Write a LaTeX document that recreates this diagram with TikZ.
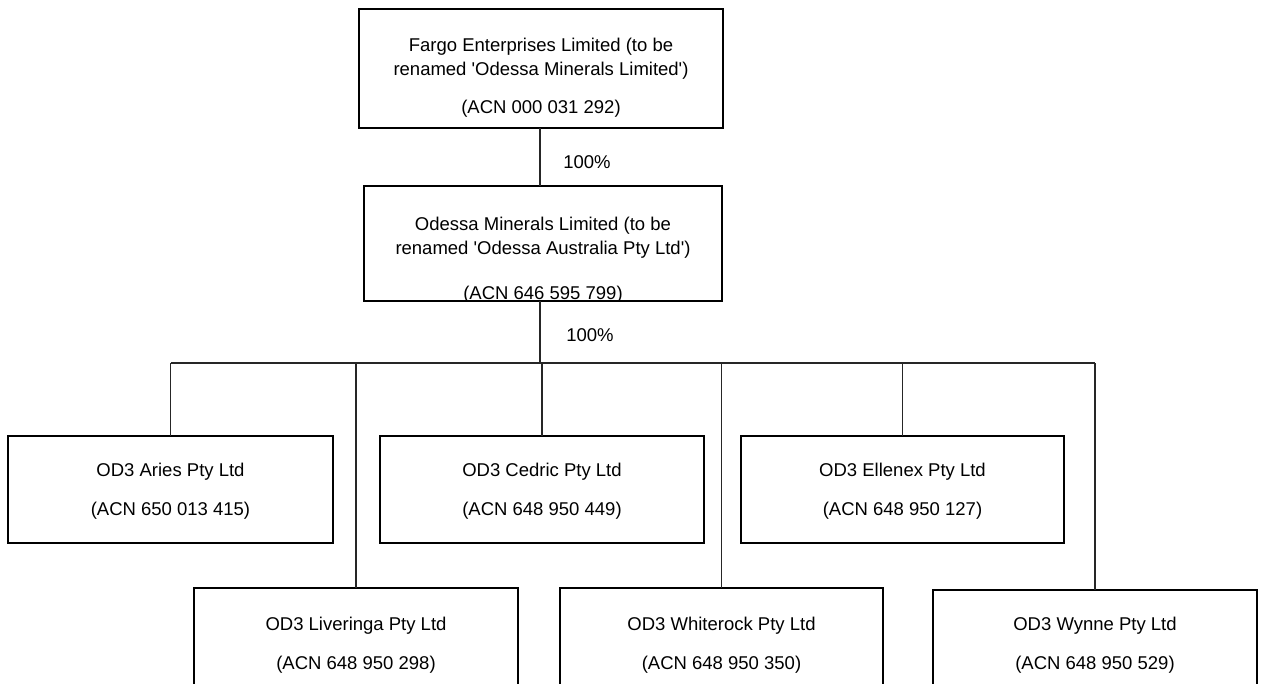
\documentclass[tikz,border=0pt]{standalone}
\usepackage{fontspec}
\setmainfont{Liberation Sans}
\begin{document}
\begin{tikzpicture}[x=1pt,y=-1pt,
    boite/.style={draw,line width=1.8pt,anchor=north west,inner sep=0pt,outer sep=0pt},
    ligne/.style={anchor=base,inner sep=0pt,font=\fontsize{18.5}{22}\selectfont},
    lien/.style={line width=1.1pt,draw=black!85}]
  \useasboundingbox (0,0) rectangle (1262,684);
  \clip (0,0) rectangle (1262,684);

  % Société mère
  \node[boite,minimum width=364pt,minimum height=119pt] (Fargo) at (359,9) {};
  \node[ligne] (Fargo_1) at ([yshift=-43pt]Fargo.north) {Fargo Enterprises Limited (to be};
  \node[ligne] (Fargo_2) at ([yshift=-67pt]Fargo.north) {renamed \textquotesingle Odessa Minerals Limited\textquotesingle)};
  \node[ligne] (Fargo_3) at ([yshift=-105pt]Fargo.north) {(ACN 000 031 292)};

  % Filiale intermédiaire (dernière ligne coupée par le cadre)
  \node[boite,minimum width=358pt,minimum height=115pt] (Odessa) at (364,186) {};
  \node[ligne] (Odessa_1) at ([yshift=-45pt]Odessa.north) {Odessa Minerals Limited (to be};
  \node[ligne] (Odessa_2) at ([yshift=-69pt]Odessa.north) {renamed \textquotesingle Odessa Australia Pty Ltd\textquotesingle)};
  \begin{scope}
    \clip (Odessa.north west) rectangle (Odessa.south east);
    \node[ligne] (Odessa_3) at ([yshift=-114pt]Odessa.north) {(ACN 646 595 799)};
  \end{scope}

  % Filiales OD3, première rangée
  \node[boite,minimum width=325pt,minimum height=107pt] (Aries) at (8,436) {};
  \node[boite,minimum width=324pt,minimum height=107pt] (Cedric) at (380,436) {};
  \node[boite,minimum width=323pt,minimum height=107pt] (Ellenex) at (741,436) {};
  % deuxième rangée (coupée en bas)
  \node[boite,minimum width=324pt,minimum height=120pt] (Liveringa) at (194,588) {};
  \node[boite,minimum width=323pt,minimum height=120pt] (Whiterock) at (560,588) {};
  \node[boite,minimum width=324pt,minimum height=120pt] (Wynne) at (933,590) {};

  \node[ligne] (Aries_1) at ([yshift=-41pt]Aries.north) {OD3 Aries Pty Ltd};
  \node[ligne] (Aries_2) at ([yshift=-79pt]Aries.north) {(ACN 650 013 415)};
  \node[ligne] (Cedric_1) at ([yshift=-41pt]Cedric.north) {OD3 Cedric Pty Ltd};
  \node[ligne] (Cedric_2) at ([yshift=-79pt]Cedric.north) {(ACN 648 950 449)};
  \node[ligne] (Ellenex_1) at ([yshift=-41pt]Ellenex.north) {OD3 Ellenex Pty Ltd};
  \node[ligne] (Ellenex_2) at ([yshift=-79pt]Ellenex.north) {(ACN 648 950 127)};
  \node[ligne] (Liveringa_1) at ([yshift=-42pt]Liveringa.north) {OD3 Liveringa Pty Ltd};
  \node[ligne] (Liveringa_2) at ([yshift=-81pt]Liveringa.north) {(ACN 648 950 298)};
  \node[ligne] (Whiterock_1) at ([yshift=-42pt]Whiterock.north) {OD3 Whiterock Pty Ltd};
  \node[ligne] (Whiterock_2) at ([yshift=-81pt]Whiterock.north) {(ACN 648 950 350)};
  \node[ligne] (Wynne_1) at ([yshift=-40pt]Wynne.north) {OD3 Wynne Pty Ltd};
  \node[ligne] (Wynne_2) at ([yshift=-79pt]Wynne.north) {(ACN 648 950 529)};

  % Liaisons
  \coordinate (Bus) at (540,363);
  \draw[lien] (Fargo.south -| Bus) -- (Odessa.north -| Bus);
  \draw[lien] (Odessa.south -| Bus) -- (Bus);
  \draw[lien] (Aries.north |- Bus) -- (Wynne.north |- Bus);
  \foreach \f in {Aries,Cedric,Ellenex,Liveringa,Whiterock,Wynne}
    \draw[lien] (\f.north) -- (\f.north |- Bus);

  % Pourcentages de détention
  \node[ligne] (Pct_1) at (587,169) {100\%};
  \node[ligne] (Pct_2) at (590,342) {100\%};
\end{tikzpicture}
\end{document}
